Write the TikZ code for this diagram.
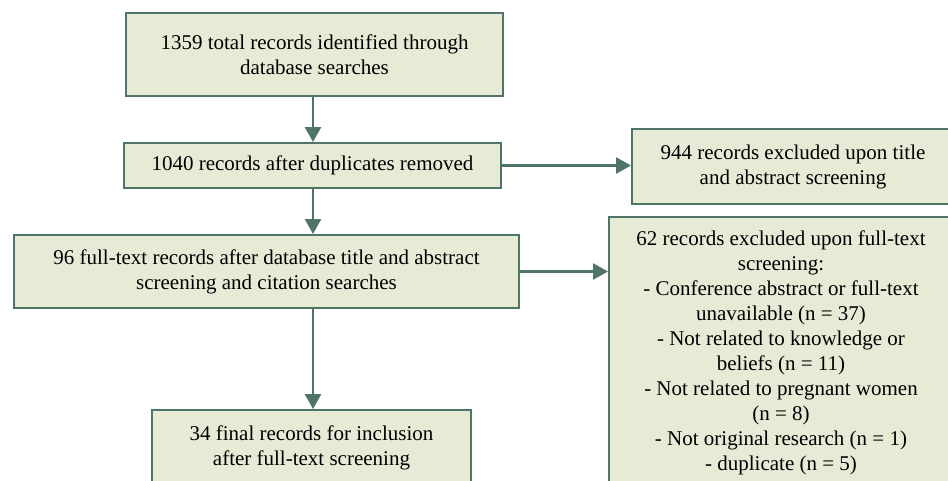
\documentclass[tikz,border=0pt]{standalone}
\usepackage{fontspec}
\setmainfont{Liberation Serif}
\newfontfamily\flowfont{Liberation Serif}
\usetikzlibrary{arrows.meta}
\definecolor{boxfill}{HTML}{E6EBD6}
\definecolor{boxline}{HTML}{4F7468}
\begin{document}
\begin{tikzpicture}[x=1pt,y=-1pt,
  flowbox/.style={draw=boxline,fill=boxfill,line width=2pt,inner sep=0pt,align=center,
    font=\flowfont\fontsize{21}{25}\selectfont},
  flowarrow/.style={draw=boxline,line width=2.6pt,-{Triangle[width=16pt,length=15pt]}}]
\useasboundingbox (0,0) rectangle (948,480);
\node[flowbox,minimum width=377pt,minimum height=83pt] (b1) at (314.5,54.5)
  {1359 total records identified through\\database searches};
\node[flowbox,minimum width=377pt,minimum height=45pt] (b2) at (312.5,165.5)
  {1040 records after duplicates removed};
\node[flowbox,minimum width=322pt,minimum height=75pt] (b3) at (793,166.5)
  {944 records excluded upon title\\and abstract screening};
\node[flowbox,minimum width=505pt,minimum height=73pt] (b4) at (266.5,271.5)
  {96 full-text records after database title and abstract\\screening and citation searches};
\node[flowbox,minimum width=344pt,minimum height=272pt] (b5) at (781,353)
  {62 records excluded upon full-text\\screening:\\- Conference abstract or full-text\\unavailable (n = 37)\\- Not related to knowledge or\\beliefs (n = 11)\\- Not related to pregnant women\\(n = 8)\\- Not original research (n = 1)\\- duplicate (n = 5)};
\node[flowbox,minimum width=319pt,minimum height=76pt] (b6) at (311.5,448)
  {34 final records for inclusion\\after full-text screening};
\draw[flowarrow] (b1.south -| 313,0) -- (b2.north -| 313,0);
\draw[flowarrow] (b2.south -| 313,0) -- (b4.north -| 313,0);
\draw[flowarrow] (b4.south -| 313,0) -- (b6.north -| 313,0);
\draw[flowarrow] (b2.east) -- (b3.west |- b2.east);
\draw[flowarrow] (b4.east) -- (b5.west |- b4.east);
\end{tikzpicture}
\end{document}
